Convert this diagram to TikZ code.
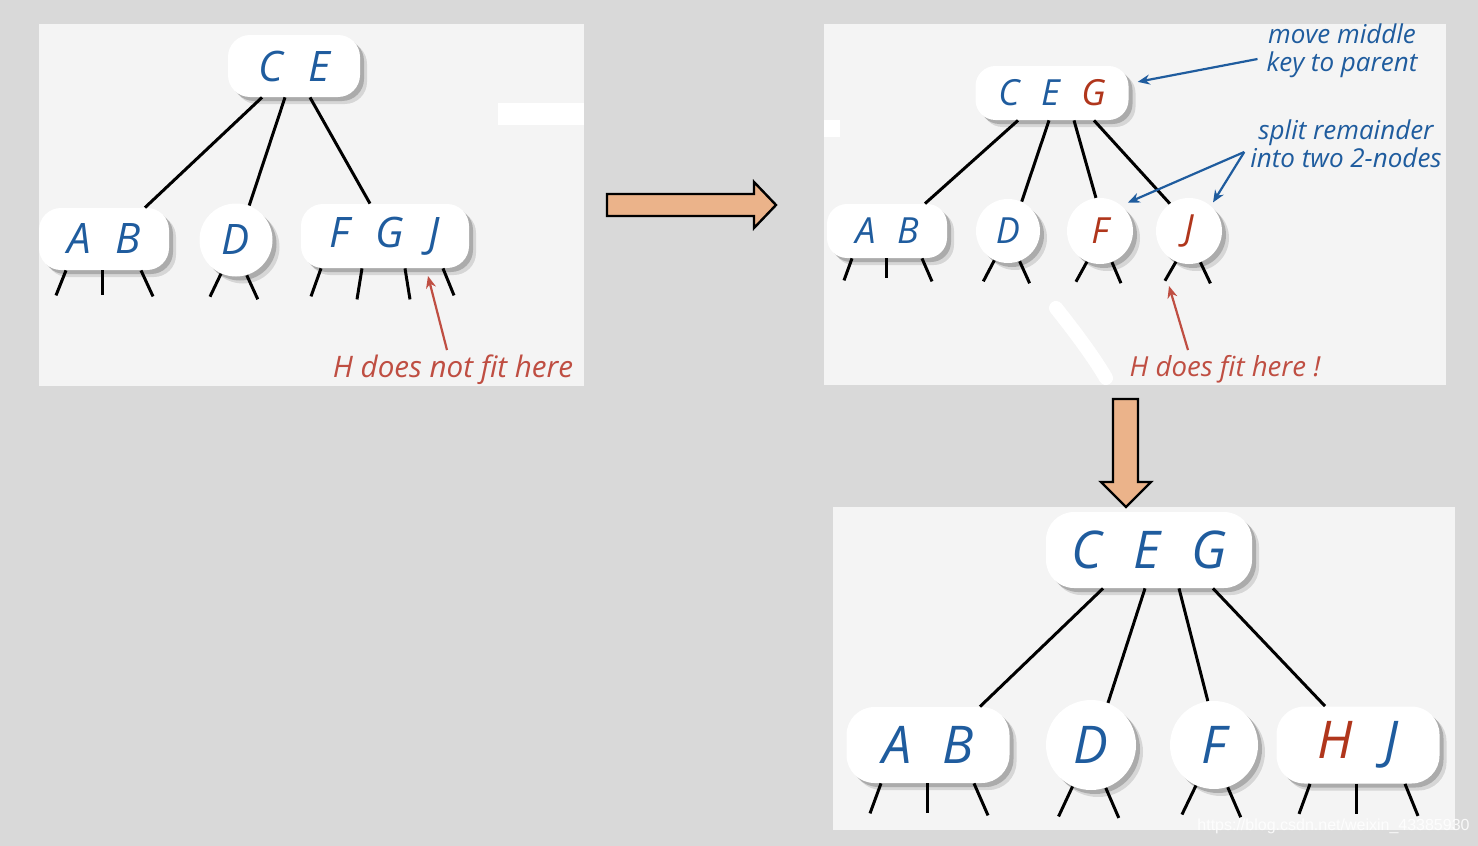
\documentclass[tikz,border=0pt]{standalone}
\usepackage{fontspec}
\setmainfont{Open Sans}
\newfontfamily\markfont{Liberation Sans}
\usetikzlibrary{arrows.meta,positioning,calc,shadows}

\definecolor{keyblue}{HTML}{1F5C9E}
\definecolor{keyred}{HTML}{B0361C}
\definecolor{notered}{HTML}{BF4E42}
\definecolor{panelgray}{HTML}{F4F4F4}
\definecolor{backgray}{HTML}{D9D9D9}
\definecolor{peach}{HTML}{EBB38A}
\newcommand{\gapk}{\hspace{0.6em}}

\begin{document}
\begin{tikzpicture}[
  x=0.5pt,y=-0.5pt,
  keybox/.style={fill=white,inner sep=0pt,text=keyblue,font=\itshape,
    drop shadow={shadow xshift=3.5pt,shadow yshift=-3.5pt,opacity=.12,fill=black},
    drop shadow={shadow xshift=2pt,shadow yshift=-2pt,opacity=.2,fill=black}},
  keycirc/.style={keybox,circle},
  ksmall/.style={font=\itshape\fontsize{21}{21}\selectfont},
  kmid/.style={font=\itshape\fontsize{18}{18}\selectfont},
  kbig/.style={font=\itshape\fontsize{26}{26}\selectfont},
  link/.style={line width=1.5pt,black},
  stub/.style={line width=1.5pt,black},
  rednote/.style={text=notered,font=\itshape\fontsize{14.8}{16}\selectfont},
  bluenote/.style={text=keyblue,align=center,font=\itshape\fontsize{13}{14}\selectfont},
  hint/.style={-{Stealth[length=6pt,width=5pt]},line width=1.1pt,notered},
  pointer/.style={-{Stealth[length=6pt,width=5pt]},line width=1.1pt,keyblue},
  bigarrow/.style={fill=peach,draw=black,line width=1.2pt,line join=miter}
]
\useasboundingbox (0,0) rectangle (1478,846);
\fill[backgray] (0,0) rectangle (1478,846);

% panels
\fill[panelgray] (39,24) rectangle (584,386);
\fill[panelgray] (824,24) rectangle (1446,385);
\fill[panelgray] (833,507) rectangle (1455,830);
\fill[white] (498,103) rectangle (584,125);
\fill[white] (824,120) rectangle (840,137);
\draw[white,line width=7pt,line cap=round] (1056,308) .. controls (1075,332) and (1093,356) .. (1106,378);

% before: 3-node FGJ
\node[keybox,ksmall,rounded corners=11pt,minimum width=66pt,minimum height=31pt] (ce1) at (294,66) {C\gapk E};
\node[keybox,ksmall,rounded corners=11pt,minimum width=65pt,minimum height=31pt] (ab1) at (104,239) {A\gapk B};
\node[keycirc,ksmall,minimum size=36.5pt] (d1) at (236,240) {D};
\node[keybox,ksmall,rounded corners=11pt,minimum width=84pt,minimum height=32pt] (fgj1) at (385,236) {F\gapk G\gapk J};
\draw[link] ($(ce1.south)+(-32,0)$) -- ($(ab1.north)+(41,0)$);
\draw[link] ($(ce1.south)+(-9,0)$) -- (d1.69);
\draw[link] ($(ce1.south)+(16,0)$) -- ($(fgj1.north)+(-15,0)$);
\draw[stub] ($(ab1.south)+(-38,0)$) -- ++(-10,25);
\draw[stub] ($(ab1.south)+(-2,0)$) -- ++(0,25);
\draw[stub] ($(ab1.south)+(37,0)$) -- ++(12,26);
\draw[stub] (d1.246) -- ++(-11,23);
\draw[stub] (d1.287) -- ++(11,24);
\draw[stub] ($(fgj1.south)+(-64,0)$) -- ++(-10,28);
\draw[stub] ($(fgj1.south)+(-23,0)$) -- ++(-5,31);
\draw[stub] ($(fgj1.south)+(20,0)$) -- ++(5,31);
\draw[stub] ($(fgj1.south)+(58,0)$) -- ++(11,27);
\node[rednote] (nofit) at (453,370) {H does not fit here};
\coordinate (gap1) at (428,276);
\draw[hint] ($(nofit.north)+(-6,2)$) -- (gap1);

% step arrow
\draw[bigarrow] (607,194) -- (754,194) -- (754,182) -- (776,205) -- (754,228) -- (754,216) -- (607,216) -- cycle;

% middle: G moved up
\node[keybox,kmid,rounded corners=10pt,minimum width=76.5pt,minimum height=27pt] (ceg2) at (1052,93) {C\gapk E\gapk\textcolor{keyred}{G}};
\node[keybox,kmid,rounded corners=10pt,minimum width=60pt,minimum height=27pt] (ab2) at (887,231) {A\gapk B};
\node[keycirc,kmid,minimum size=32pt] (d2) at (1008,231) {D};
\node[keycirc,kmid,minimum size=33pt,text=keyred] (f2) at (1100,231) {F};
\node[keycirc,kmid,minimum size=33pt,text=keyred] (j2) at (1189,231) {J};
\draw[link] ($(ceg2.south)+(-34,0)$) -- ($(ab2.north)+(38,0)$);
\draw[link] ($(ceg2.south)+(-3,0)$) -- (d2.65);
\draw[link] ($(ceg2.south)+(22,0)$) -- (f2.97);
\draw[link] ($(ceg2.south)+(42,0)$) -- (j2.125);
\draw[stub] ($(ab2.south)+(-35,0)$) -- ++(-8,22);
\draw[stub] ($(ab2.south)+(-1,0)$) -- ++(0,20);
\draw[stub] ($(ab2.south)+(35,0)$) -- ++(10,23);
\draw[stub] (d2.245) -- ++(-11,21);
\draw[stub] (d2.291) -- ++(10,22);
\draw[stub] (f2.247) -- ++(-11,20);
\draw[stub] (f2.291) -- ++(9,21);
\draw[stub] (j2.247) -- ++(-11,19);
\draw[stub] (j2.290) -- ++(10,21);
\node[rednote,font=\itshape\fontsize{13.8}{15}\selectfont] (dofit) at (1225,369) {H does fit here !};
\coordinate (gap2) at (1169,286);
\draw[hint] ($(dofit.north)+(-37,2)$) -- (gap2);
\node[bluenote] (move) at (1342,51) {move middle\\key to parent};
\draw[pointer,shorten >=4.5pt] ($(move.west)+(-2,8)$) -- (ceg2.7);
\node[bluenote] (split) at (1346,144) {split remainder\\into two 2-nodes};
\draw[pointer,shorten >=3.5pt] ($(split.west)+(1,8)$) -- (f2.50);
\draw[pointer,shorten >=2pt] ($(split.west)+(1,8)$) -- (j2.49);

% step arrow
\draw[bigarrow] (1113,399) -- (1138,399) -- (1138,482) -- (1151,482) -- (1126,507) -- (1101,482) -- (1113,482) -- cycle;

% after: H inserted
\node[keybox,kbig,rounded corners=14pt,minimum width=103pt,minimum height=38pt] (ceg3) at (1149,550) {C\gapk E\gapk G};
\node[keybox,kbig,rounded corners=14pt,minimum width=81.5pt,minimum height=38pt] (ab3) at (928,745) {A\gapk B};
\node[keycirc,kbig,minimum size=45pt] (d3) at (1091,745) {D};
\node[keycirc,kbig,minimum size=44pt] (f3) at (1214,745) {F};
\node[keybox,kbig,rounded corners=14pt,minimum width=81.5pt,minimum height=38.5pt] (hj3) at (1358,745) {\textcolor{keyred}{H}\gapk J};
\draw[link] ($(ceg3.south)+(-46,0)$) -- ($(ab3.north)+(52,0)$);
\draw[link] ($(ceg3.south)+(-4,0)$) -- (d3.68);
\draw[link] ($(ceg3.south)+(30,0)$) -- (f3.98);
\draw[link] ($(ceg3.south)+(64,0)$) -- ($(hj3.north)+(-33,0)$);
\draw[stub] ($(ab3.south)+(-47,0)$) -- ++(-11,30);
\draw[stub] ($(ab3.south)+(-1,0)$) -- ++(0,30);
\draw[stub] ($(ab3.south)+(46,0)$) -- ++(14,32);
\draw[stub] (d3.246) -- ++(-14,30);
\draw[stub] (d3.289) -- ++(13,30);
\draw[stub] (f3.246) -- ++(-14,29);
\draw[stub] (f3.288) -- ++(13,30);
\draw[stub] ($(hj3.south)+(-48,0)$) -- ++(-11,30);
\draw[stub] ($(hj3.south)+(-2,0)$) -- ++(0,30);
\draw[stub] ($(hj3.south)+(47,0)$) -- ++(13,32);

\node[anchor=west,inner sep=0pt,text=white,opacity=.85,font=\markfont\fontsize{8}{8}\selectfont] (mark) at (1197,826) {https://blog.csdn.net/weixin\_43385930};
\end{tikzpicture}
\end{document}
